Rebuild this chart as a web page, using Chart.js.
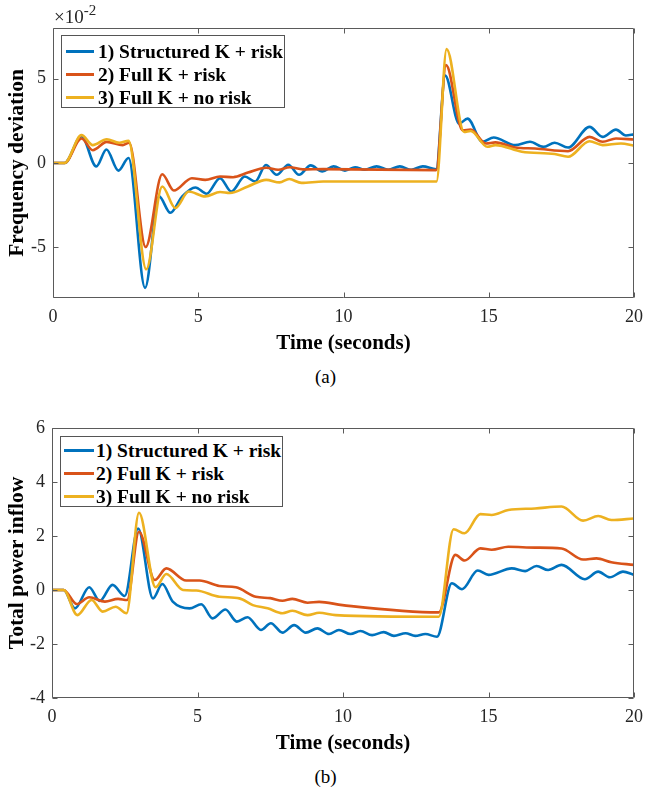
<!DOCTYPE html>
<html>
<head>
<meta charset="utf-8">
<script src="https://cdn.jsdelivr.net/npm/chart.js@4.4.0/dist/chart.umd.min.js"></script>
<style>
  body { margin: 0; background: #fff; width: 651px; height: 794px; position: relative; overflow: hidden; font-family: "Liberation Serif", "Times New Roman", serif; }
  canvas { position: absolute; left: 0; }
  .legend { position: absolute; background: #fff; border: 1px solid #555; box-sizing: border-box; }
  .legend .row { position: absolute; left: 0; right: 0; height: 23px; line-height: 23px; font-weight: bold; font-size: 19.5px; color: #000; white-space: nowrap; }
  .legend .swatch { position: absolute; height: 2.6px; top: 10.5px; }
  .legend .txt { position: absolute; top: 0; }
  .exp { position: absolute; left: 54px; top: 3px; font-size: 19px; color: #262626; }
  .exp sup { font-size: 15px; position: relative; top: -1px; }
  .cap { position: absolute; left: 0; width: 651px; text-align: center; font-size: 19px; color: #000; }
</style>
</head>
<body>
<canvas id="freq" width="651" height="360" style="top:0"></canvas>
<canvas id="power" width="651" height="360" style="top:400px"></canvas>
<div class="exp">×10<sup>-2</sup></div>
<div class="cap" style="top:366px">(a)</div>
<div class="cap" style="top:766px">(b)</div>
<script>
// series labels and MATLAB default colours
var seriesNames = ['1) Structured K + risk', '2) Full K + risk', '3) Full K + no risk'];
var seriesColors = ['#0072BD', '#D95319', '#EDB120'];

// (a) frequency deviation, x10^-2
var freqT1 = [0, 0.4, 0.98, 1.49, 1.84, 2.25, 2.6, 3.17, 3.65, 4.04, 4.45, 4.9, 5.29, 5.75, 6.14, 6.6, 6.96, 7.33, 7.7, 8.1, 8.47, 8.87, 9.27, 9.66, 10.05, 10.4, 10.73, 11.14, 11.54, 11.94, 12.33, 12.73, 13.19, 13.5, 13.98, 14.27, 14.78, 15.17, 15.91, 16.42, 16.88, 17.27, 17.73, 18.47, 18.92, 19.38, 19.72, 20];
var freqV1 = [0, 0, 1.59, -0.2, 0.8, -0.45, 0.3, -7.4, -1.98, -2.95, -1.98, -1.45, -1.82, -0.9, -1.69, -0.8, -1.1, -0.12, -0.7, -0.1, -0.7, -0.14, -0.5, -0.2, -0.45, -0.25, -0.4, -0.2, -0.4, -0.2, -0.4, -0.2, -0.37, 5.18, 2.33, 2.63, 1.26, 1.51, 1.06, 1.26, 0.96, 1.2, 0.92, 2.14, 1.55, 1.98, 1.63, 1.7];
var freqT2 = [0, 0.4, 0.98, 1.37, 1.85, 2.4, 2.62, 3.19, 3.76, 4.16, 4.78, 5.24, 5.75, 6.2, 6.71, 7.34, 7.75, 8.15, 8.6, 9.3, 13.19, 13.53, 14.1, 14.38, 14.9, 15.23, 15.91, 16.59, 17.73, 18.47, 18.92, 19.38, 20];
var freqV2 = [0, 0, 1.45, 0.76, 1.25, 1.06, 1.2, -4.98, -0.67, -1.63, -0.9, -1.0, -0.8, -0.84, -0.57, -0.28, -0.4, -0.25, -0.38, -0.36, -0.42, 5.8, 1.94, 1.98, 1.16, 1.22, 0.92, 0.86, 0.7, 1.55, 1.26, 1.45, 1.39];
var freqT3 = [0, 0.4, 0.98, 1.37, 1.85, 2.28, 2.6, 3.21, 3.76, 4.21, 4.67, 5.24, 5.75, 6.09, 6.71, 7.34, 7.8, 8.13, 8.55, 9.3, 13.2, 13.55, 14.15, 14.38, 14.95, 15.23, 16.14, 17.27, 17.73, 18.47, 18.92, 19.55, 20];
var freqV3 = [0, 0, 1.65, 1.06, 1.41, 1.2, 1.31, -6.3, -1.39, -2.67, -1.69, -1.98, -1.72, -1.78, -1.39, -1.0, -1.15, -0.95, -1.18, -1.1, -1.1, 6.75, 1.84, 1.9, 0.96, 1.06, 0.67, 0.53, 0.37, 1.29, 1.06, 1.16, 1.02];
var freqTicksY = [-5, 0, 5];

// (b) total power inflow
var powT1 = [0, 0.4, 0.79, 1.28, 1.64, 2.08, 2.5, 2.96, 3.47, 3.79, 4.15, 4.73, 5.13, 5.52, 5.96, 6.35, 6.72, 7.18, 7.52, 7.92, 8.32, 8.72, 9.12, 9.52, 9.86, 10.26, 10.6, 11.0, 11.4, 11.75, 12.15, 12.48, 12.83, 13.23, 13.74, 14.09, 14.63, 15.0, 15.8, 16.26, 16.65, 17.05, 17.51, 18.31, 18.77, 19.17, 19.62, 20];
var powV1 = [0, 0, -0.68, 0.1, -0.41, 0.19, -0.22, 2.28, -0.31, 0.22, -0.43, -0.68, -0.53, -1.05, -0.72, -1.17, -1.01, -1.48, -1.23, -1.58, -1.3, -1.58, -1.42, -1.63, -1.48, -1.63, -1.52, -1.67, -1.56, -1.7, -1.6, -1.7, -1.63, -1.73, 0.25, 0.03, 0.72, 0.56, 0.8, 0.7, 0.89, 0.74, 0.93, 0.4, 0.68, 0.47, 0.68, 0.56];
var powT2 = [0, 0.4, 0.85, 1.28, 1.82, 2.27, 2.58, 2.99, 3.53, 3.93, 4.61, 5.07, 5.75, 6.32, 7.0, 7.5, 7.92, 8.26, 8.78, 9.18, 9.98, 13.29, 13.86, 14.18, 14.72, 15.11, 15.68, 16.6, 17.51, 18.25, 18.71, 19.22, 20];
var powV2 = [0, 0, -0.52, -0.27, -0.43, -0.33, -0.37, 2.16, 0.37, 0.8, 0.35, 0.35, 0.15, 0.1, -0.25, -0.3, -0.4, -0.33, -0.47, -0.44, -0.56, -0.83, 1.3, 1.09, 1.54, 1.49, 1.6, 1.57, 1.54, 1.13, 1.17, 1.03, 0.93];
var powT3 = [0, 0.4, 0.87, 1.36, 1.74, 2.19, 2.56, 2.99, 3.56, 3.93, 4.5, 4.96, 5.75, 6.44, 6.9, 7.41, 7.92, 8.26, 8.78, 9.18, 9.75, 13.29, 13.8, 14.18, 14.72, 15.11, 15.68, 16.6, 17.51, 18.25, 18.77, 19.22, 20];
var powV3 = [0, 0, -0.93, -0.37, -0.8, -0.62, -0.86, 2.86, 0.1, 0.59, 0, -0.02, -0.25, -0.31, -0.56, -0.68, -0.86, -0.77, -0.93, -0.84, -0.93, -0.99, 2.25, 2.1, 2.81, 2.78, 2.96, 3.02, 3.09, 2.57, 2.74, 2.59, 2.65];
var powTicksY = [-4, -2, 0, 2, 4, 6];

var serif = '"Liberation Serif", "Times New Roman", serif';

function pairs(ts, vs) {
    return ts.map(function(t, i) { return {x: t, y: vs[i]}; });
}

// MATLAB-like closed box with inward tick marks
var boxPlugin = {
    id: 'matlabBox',
    afterDraw: function(chart) {
        var ctx = chart.ctx, a = chart.chartArea;
        var x = chart.scales.x, y = chart.scales.y;
        var l = Math.round(a.left) + 0.5, r = Math.round(a.right) - 0.5;
        var t = Math.round(a.top) + 0.5, b = Math.round(a.bottom) - 0.5;
        ctx.save();
        ctx.strokeStyle = '#5a5a5a';
        ctx.lineWidth = 1;
        ctx.beginPath();
        ctx.rect(l, t, r - l, b - t);
        x.ticks.forEach(function(tk) {
            var px = Math.round(x.getPixelForValue(tk.value)) + 0.5;
            ctx.moveTo(px, b); ctx.lineTo(px, b - 5);
            ctx.moveTo(px, t); ctx.lineTo(px, t + 5);
        });
        y.ticks.forEach(function(tk) {
            var py = Math.round(y.getPixelForValue(tk.value)) + 0.5;
            ctx.moveTo(l, py); ctx.lineTo(l + 5, py);
            ctx.moveTo(r, py); ctx.lineTo(r - 5, py);
        });
        ctx.stroke();
        ctx.restore();
    }
};

function makeChart(id, series, yMin, yMax, yTicks, yTitle, axisWidth, rightPad) {
    var datasets = series.map(function(s, i) {
        return {
            label: seriesNames[i],
            data: s,
            borderColor: seriesColors[i],
            borderWidth: 2.6,
            pointRadius: 0,
            fill: false,
            cubicInterpolationMode: 'monotone',
            order: 3 - i
        };
    });
    return new Chart(document.getElementById(id), {
        type: 'line',
        data: {datasets: datasets},
        plugins: [boxPlugin],
        options: {
            responsive: false,
            devicePixelRatio: 1,
            animation: false,
            layout: {padding: {top: 28, right: rightPad, left: 0, bottom: 0}},
            plugins: {legend: {display: false}, tooltip: {enabled: false}},
            scales: {
                x: {
                    type: 'linear', min: 0, max: 20,
                    grid: {display: false, drawTicks: false},
                    border: {display: false},
                    ticks: {stepSize: 5, padding: 8, color: '#262626', font: {family: serif, size: 18}},
                    title: {display: true, text: 'Time (seconds)', color: '#000', padding: {top: 0, bottom: 4},
                            font: {family: serif, size: 21, weight: 'bold'}},
                    afterFit: function(s) { s.height = 62; }
                },
                y: {
                    min: yMin, max: yMax,
                    grid: {display: false, drawTicks: false},
                    border: {display: false},
                    ticks: {padding: 7, color: '#262626', font: {family: serif, size: 18}},
                    afterBuildTicks: function(s) { s.ticks = yTicks.map(function(v) { return {value: v}; }); },
                    title: {display: true, text: yTitle, color: '#000', padding: {top: 5, bottom: 0},
                            font: {family: serif, size: 21.5, weight: 'bold'}},
                    afterFit: function(s) { s.width = axisWidth; }
                }
            }
        }
    });
}

makeChart('freq', [pairs(freqT1, freqV1), pairs(freqT2, freqV2), pairs(freqT3, freqV3)],
          -8, 8, freqTicksY, 'Frequency deviation', 53, 11);
makeChart('power', [pairs(powT1, powV1), pairs(powT2, powV2), pairs(powT3, powV3)],
          -4, 6, powTicksY, 'Total power inflow', 52, 15);

// legends inside each axes box
function addLegend(box, swLeft, swWidth, txtLeft, rowTop) {
    var el = document.createElement('div');
    el.className = 'legend';
    el.style.left = box[0] + 'px'; el.style.top = box[1] + 'px';
    el.style.width = box[2] + 'px'; el.style.height = box[3] + 'px';
    seriesNames.forEach(function(name, i) {
        var row = document.createElement('div');
        row.className = 'row';
        row.style.top = (rowTop + i * 23) + 'px';
        var sw = document.createElement('div');
        sw.className = 'swatch';
        sw.style.left = swLeft + 'px'; sw.style.width = swWidth + 'px';
        sw.style.background = seriesColors[i];
        var tx = document.createElement('div');
        tx.className = 'txt';
        tx.style.left = txtLeft + 'px';
        tx.textContent = name;
        row.appendChild(sw); row.appendChild(tx);
        el.appendChild(row);
    });
    document.body.appendChild(el);
}
addLegend([61, 35, 224, 73], 4, 28, 36, 3.5);
addLegend([60, 436, 223, 71], 3, 30, 35, 1.5);
</script>
</body>
</html>
